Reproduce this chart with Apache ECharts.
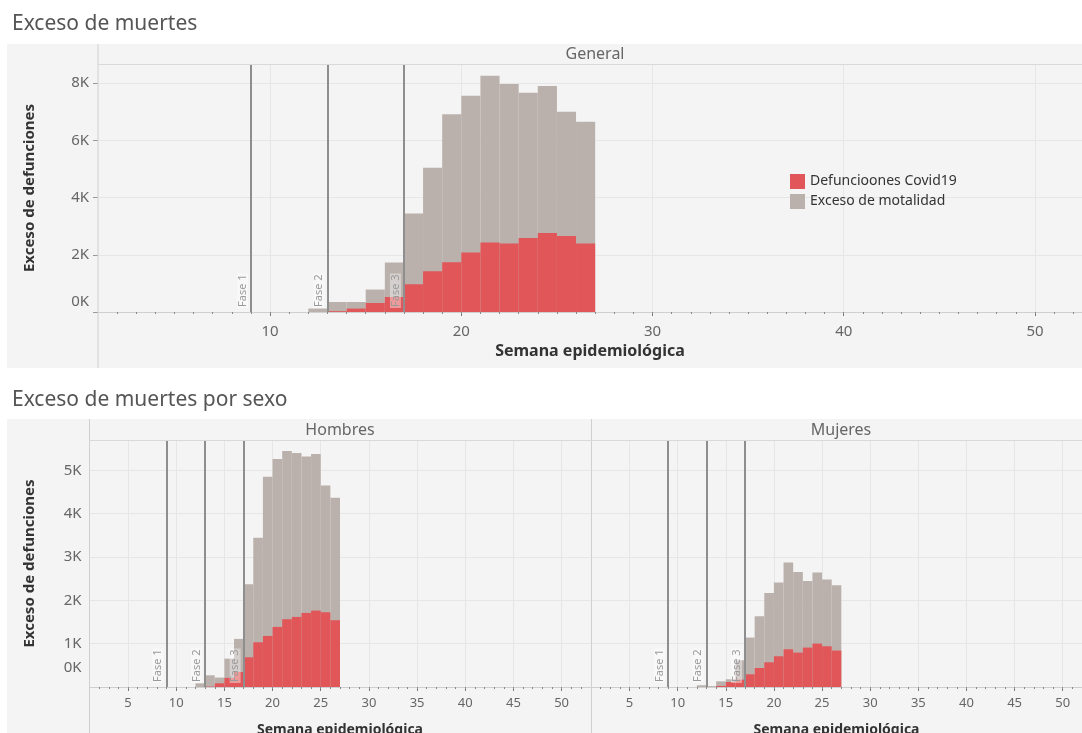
<!DOCTYPE html>
<html>
<head>
<meta charset="utf-8">
<script src="https://cdn.jsdelivr.net/npm/echarts@6/dist/echarts.min.js"></script>
<style>
html,body{margin:0;padding:0;background:#fff;}
#main{width:1082px;height:733px;}
</style>
</head>
<body>
<div id="main"></div>
<script>
// semana epidemiologica (inicio de cada barra)
var semanas = [12, 13, 14, 15, 16, 17, 18, 19, 20, 21, 22, 23, 24, 25, 26];

var generalExceso = [120, 350, 350, 785, 1730, 3445, 5040, 6910, 7560, 8260, 7970, 7665, 7900, 7000, 6650];
var generalCovid  = [0, 30, 120, 315, 525, 970, 1425, 1740, 2080, 2430, 2395, 2590, 2765, 2660, 2395];

var hombresExceso = [85, 270, 217, 655, 1110, 2372, 3442, 4851, 5260, 5445, 5398, 5322, 5375, 4652, 4366];
var hombresCovid  = [0, 10, 85, 210, 347, 686, 1032, 1178, 1386, 1564, 1617, 1709, 1764, 1725, 1541];

var mujeresExceso = [40, 20, 131, 178, 617, 1141, 1633, 2171, 2411, 2873, 2656, 2449, 2643, 2481, 2349];
var mujeresCovid  = [0, 0, 25, 115, 170, 293, 439, 570, 709, 871, 794, 910, 1002, 940, 841];

var fases = [9, 13, 17];
var faseNombres = ['Fase 1', 'Fase 2', 'Fase 3'];

var ticksGeneral = [10, 20, 30, 40, 50];
var ticksSexo = [5, 10, 15, 20, 25, 30, 35, 40, 45, 50];

var nombreCovid = 'Defuncioones Covid19';
var nombreExceso = 'Exceso de motalidad';

var rojo = '#e15759';
var gris = '#bab0ac';
var fuente = 'Noto Sans';

var menores = [];
for (var i = 2; i <= 52; i++) menores.push(i);

function barras(nombre, valores, color, idx, conFases) {
  var s = {
    name: nombre,
    type: 'custom',
    xAxisIndex: idx * 2,
    yAxisIndex: idx,
    itemStyle: { color: color },
    encode: { x: 0, y: 1 },
    renderItem: function (params, api) {
      var w = api.value(0), v = api.value(1);
      var p0 = api.coord([w, v]);
      var p1 = api.coord([w + 1, 0]);
      return {
        type: 'rect',
        shape: { x: p0[0], y: p0[1], width: p1[0] - p0[0], height: p1[1] - p0[1] },
        style: { fill: color }
      };
    },
    data: semanas.map(function (s, i) { return [s, valores[i]]; })
  };
  if (conFases) {
    s.markLine = {
      silent: true,
      symbol: ['none', 'none'],
      lineStyle: { color: '#8e8e8e', width: 2, type: 'solid' },
      label: {
        show: true, position: 'insideStartTop', formatter: '{b}',
        color: '#9a9a9a', fontSize: 11, fontFamily: fuente,
        backgroundColor: 'rgba(255,255,255,0.4)', padding: [0, 1], distance: [4, 3]
      },
      data: fases.map(function (f, i) { return { xAxis: f, name: faseNombres[i] }; })
    };
  }
  return s;
}

function ejeX(grid, max, ticks, fs, margen, gap, nfs) {
  return [{
    type: 'value', gridIndex: grid, position: 'bottom', min: 1, max: max,
    name: 'Semana epidemiológica',
    nameLocation: 'middle', nameGap: gap,
    nameTextStyle: { fontFamily: fuente, fontWeight: 'bold', fontSize: nfs, color: '#333' },
    axisLine: { show: true, lineStyle: { color: '#cfcfcf', width: 1 } },
    axisTick: { show: true, customValues: ticks, length: 4, lineStyle: { color: '#777' } },
    axisLabel: { customValues: ticks, fontFamily: fuente, fontSize: fs, color: '#666', margin: margen },
    splitLine: { show: true, lineStyle: { color: '#e6e6e6', width: 1 } }
  }, {
    type: 'value', gridIndex: grid, position: 'bottom', min: 1, max: max,
    axisLine: { show: false },
    axisTick: { show: true, customValues: menores, length: 2, lineStyle: { color: '#888' } },
    axisLabel: { show: false },
    splitLine: { show: false }
  }];
}

function etiquetaY(v) {
  if (v === 0) return '{z|0K}';
  return (v / 1000) + 'K';
}

var option = {
  backgroundColor: '#fff',
  animation: false,
  textStyle: { fontFamily: fuente },
  title: [
    { text: 'Exceso de muertes', left: 7, top: 9, textStyle: { fontFamily: fuente, fontSize: 21, fontWeight: 'normal', color: '#555' } },
    { text: 'Exceso de muertes por sexo', left: 7, top: 385, textStyle: { fontFamily: fuente, fontSize: 21, fontWeight: 'normal', color: '#555' } }
  ],
  legend: {
    data: [nombreCovid, nombreExceso],
    orient: 'vertical', left: 790, top: 174, padding: 0,
    itemWidth: 15, itemHeight: 15, itemGap: 5, icon: 'rect',
    textStyle: { fontFamily: fuente, fontSize: 14, color: '#333' }
  },
  graphic: [
    { type: 'rect', z: -100, shape: { x: 7, y: 44, width: 1075, height: 324 }, style: { fill: '#f4f4f4' } },
    { type: 'rect', z: -100, shape: { x: 7, y: 419, width: 1075, height: 314 }, style: { fill: '#f4f4f4' } },
    { type: 'line', z: 50, shape: { x1: 98, y1: 44, x2: 98, y2: 368 }, style: { stroke: '#d0d0d0', lineWidth: 1 } },
    { type: 'line', z: 50, shape: { x1: 98, y1: 64.5, x2: 1082, y2: 64.5 }, style: { stroke: '#d9d9d9', lineWidth: 1 } },
    { type: 'line', z: 50, shape: { x1: 89.5, y1: 419, x2: 89.5, y2: 733 }, style: { stroke: '#d0d0d0', lineWidth: 1 } },
    { type: 'line', z: 50, shape: { x1: 591.5, y1: 419, x2: 591.5, y2: 733 }, style: { stroke: '#d0d0d0', lineWidth: 1 } },
    { type: 'line', z: 50, shape: { x1: 89, y1: 440.5, x2: 1082, y2: 440.5 }, style: { stroke: '#d9d9d9', lineWidth: 1 } },
    { type: 'text', z: 50, x: 595, y: 54.5, style: { text: 'General', textAlign: 'center', textVerticalAlign: 'middle', fontFamily: fuente, fontSize: 16, fill: '#666' } },
    { type: 'text', z: 50, x: 340, y: 430, style: { text: 'Hombres', textAlign: 'center', textVerticalAlign: 'middle', fontFamily: fuente, fontSize: 16, fill: '#666' } },
    { type: 'text', z: 50, x: 841, y: 430, style: { text: 'Mujeres', textAlign: 'center', textVerticalAlign: 'middle', fontFamily: fuente, fontSize: 16, fill: '#666' } }
  ],
  grid: [
    { left: 98, top: 64, width: 984, height: 248, outerBoundsMode: 'none' },
    { left: 89.5, top: 440, width: 501, height: 247, outerBoundsMode: 'none' },
    { left: 591, top: 440, width: 491, height: 247, outerBoundsMode: 'none' }
  ],
  xAxis: [].concat(
    ejeX(0, 52.46, ticksGeneral, 15, 12, 31, 16),
    ejeX(1, 53, ticksSexo, 13, 10, 36, 14),
    ejeX(2, 52, ticksSexo, 13, 10, 36, 14)
  ),
  yAxis: [{
    type: 'value', gridIndex: 0, min: 0, max: 8670, interval: 2000,
    name: 'Exceso de defunciones', nameLocation: 'middle', nameGap: 61, nameRotate: 90,
    nameTextStyle: { fontFamily: fuente, fontWeight: 'bold', fontSize: 15, color: '#333' },
    axisLine: { show: false },
    axisTick: { show: true, length: 5, lineStyle: { color: '#999' } },
    axisLabel: {
      formatter: etiquetaY, showMaxLabel: false, fontFamily: fuente, fontSize: 15, color: '#666', margin: 9,
      rich: { z: { fontFamily: fuente, fontSize: 15, color: '#666', padding: [0, 0, 20, 0] } }
    },
    splitLine: { show: true, lineStyle: { color: '#e6e6e6' } }
  }, {
    type: 'value', gridIndex: 1, min: 0, max: 5700, interval: 1000,
    name: 'Exceso de defunciones', nameLocation: 'middle', nameGap: 52, nameRotate: 90,
    nameTextStyle: { fontFamily: fuente, fontWeight: 'bold', fontSize: 15, color: '#333' },
    axisLine: { show: false },
    axisTick: { show: false },
    axisLabel: {
      formatter: etiquetaY, showMaxLabel: false, fontFamily: fuente, fontSize: 15, color: '#666', margin: 8,
      rich: { z: { fontFamily: fuente, fontSize: 15, color: '#666', padding: [0, 0, 38, 0] } }
    },
    splitLine: { show: true, lineStyle: { color: '#e6e6e6' } }
  }, {
    type: 'value', gridIndex: 2, min: 0, max: 5700, interval: 1000,
    axisLine: { show: false },
    axisTick: { show: false },
    axisLabel: { show: false },
    splitLine: { show: true, lineStyle: { color: '#e6e6e6' } }
  }],
  series: [
    barras(nombreExceso, generalExceso, gris, 0, true),
    barras(nombreCovid, generalCovid, rojo, 0, false),
    barras(nombreExceso, hombresExceso, gris, 1, true),
    barras(nombreCovid, hombresCovid, rojo, 1, false),
    barras(nombreExceso, mujeresExceso, gris, 2, true),
    barras(nombreCovid, mujeresCovid, rojo, 2, false)
  ]
};

var myChart = echarts.init(document.getElementById('main'));
myChart.setOption(option);
window.addEventListener('resize', function () {
  myChart.resize();
});
</script>
</body>
</html>
